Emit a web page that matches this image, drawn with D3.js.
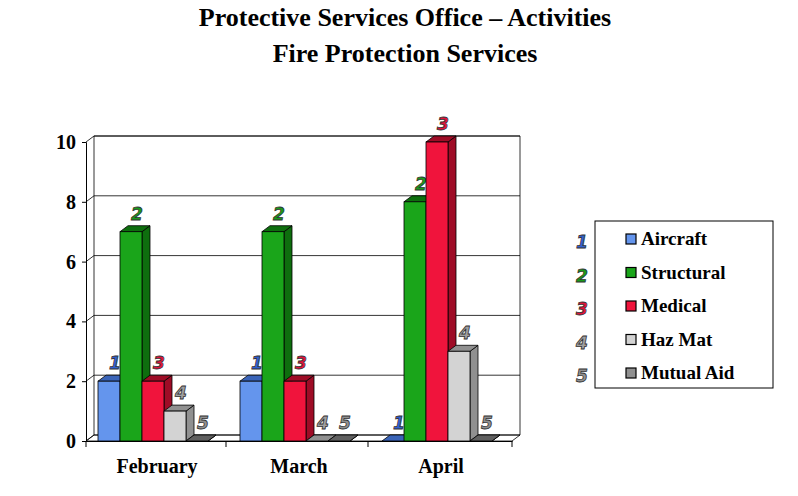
<!DOCTYPE html><html><head><meta charset="utf-8"><script src="https://cdn.jsdelivr.net/npm/d3@7"></script>
<style>body{margin:0;background:#fff}</style></head><body><svg id="c" width="798" height="496"></svg>
<script>
const categories=["February","March","April"];
const series=["Aircraft","Structural","Medical","Haz Mat","Mutual Aid"];
const seriesLabels=["1","2","3","4","5"];
const aircraft=[2,2,0], structural=[7,7,8], medical=[2,2,10], hazmat=[1,0,3], mutual=[0,0,0];
const yTicks=[0,2,4,6,8,10];
const colors=["#6495ED","#1AA51A","#F0143C","#D3D3D3","#909090"];
const sides=["#3A64B8","#0E6E0E","#9E0C26","#909090","#606060"];
const labCol=["#3060D0","#1A9A1A","#E0143C","#A0A0A0","#909090"];
const vals=[aircraft,structural,medical,hazmat,mutual];
const svg=d3.select("#c");
const F="'Liberation Serif','Times New Roman',serif";
svg.append("text").attr("x",405).attr("y",26).attr("text-anchor","middle").attr("font-family",F).attr("font-weight","bold").attr("font-size",26).text("Protective Services Office – Activities");
svg.append("text").attr("x",405).attr("y",62).attr("text-anchor","middle").attr("font-family",F).attr("font-weight","bold").attr("font-size",26).text("Fire Protection Services");
const y=d3.scaleLinear().domain([0,10]).range([441,142]);
const x0=d3.scaleBand().domain(categories).range([86,512]);
const x1=d3.scaleBand().domain(series).range([12,122]);
const dx=8,dy=-6;
const g=svg.append("g");
// walls
g.append("path").attr("d",`M86,441 L${86+dx},${441+dy} L${520},${441+dy} M${86+dx},${441+dy} L${86+dx},${y(10)+dy} L520,${y(10)+dy} L520,${441+dy}`).attr("fill","none").attr("stroke","#000").attr("stroke-width",0.8);
yTicks.forEach(t=>{
 g.append("path").attr("d",`M86,${y(t)} L${86+dx},${y(t)+dy} L520,${y(t)+dy}`).attr("fill","none").attr("stroke","#000").attr("stroke-width",0.8);
});
// floor
g.append("path").attr("d",`M86,441 L512,441 L520,${441+dy}`).attr("fill","none").attr("stroke","#000").attr("stroke-width",0.8);
const ax=d3.axisLeft(y).tickValues(yTicks).tickSize(4).tickPadding(6);
const ag=svg.append("g").attr("transform","translate(86,0)").call(ax);
ag.select(".domain").attr("stroke","#000");
ag.selectAll("text").attr("font-family",F).attr("font-weight","bold").attr("font-size",20).attr("fill","#000");
const bx=d3.axisBottom(x0).tickSize(0).tickPadding(18);
const bg=svg.append("g").attr("transform","translate(0,441)").call(bx);
bg.select(".domain").attr("stroke","#000");
bg.selectAll("text").attr("font-family",F).attr("font-weight","bold").attr("font-size",20).attr("fill","#000");
[86,226,368,512].forEach(t=>svg.append("line").attr("x1",t).attr("x2",t).attr("y1",441).attr("y2",447).attr("stroke","#000"));
const w=x1.bandwidth();
categories.forEach((c,ci)=>{
 series.forEach((s,si)=>{
  const v=vals[si][ci];
  const x=x0(c)+x1(s), yt=y(v), yb=y(0);
  const bar=svg.append("g").attr("stroke","#000").attr("stroke-width",0.8);
  bar.append("path").attr("d",`M${x+w},${yb} L${x+w+dx},${yb+dy} L${x+w+dx},${yt+dy} L${x+w},${yt}Z`).attr("fill",sides[si]);
  bar.append("path").attr("d",`M${x},${yt} L${x+dx},${yt+dy} L${x+w+dx},${yt+dy} L${x+w},${yt}Z`).attr("fill",sides[si]);
  if(v>0) bar.append("rect").attr("x",x).attr("y",yt).attr("width",w).attr("height",yb-yt).attr("fill",colors[si]);
  svg.append("text").attr("x",x+w/2+dx/2+2).attr("y",yt+dy-6).attr("text-anchor","middle").attr("font-family","'DejaVu Sans',sans-serif").attr("font-weight","bold").attr("font-style","italic").attr("font-size",17).attr("fill",labCol[si]).attr("stroke","#333").attr("stroke-width",0.8).text(seriesLabels[si]);
 });
});
// legend
svg.append("rect").attr("x",595).attr("y",221).attr("width",178).attr("height",167).attr("fill","#fff").attr("stroke","#000");
series.forEach((s,i)=>{
 const yy=240+i*33.5;
 svg.append("rect").attr("x",626).attr("y",yy-6).attr("width",10).attr("height",10).attr("fill",colors[i]).attr("stroke","#000").attr("stroke-width",1.2);
 svg.append("text").attr("x",641).attr("y",yy+5).attr("font-family",F).attr("font-weight","bold").attr("font-size",19).text(s);
 svg.append("text").attr("x",582).attr("y",yy+8).attr("text-anchor","middle").attr("font-family","'DejaVu Sans',sans-serif").attr("font-weight","bold").attr("font-style","italic").attr("font-size",17).attr("fill",labCol[i]).attr("stroke","#333").attr("stroke-width",0.8).text(seriesLabels[i]);
});
</script></body></html>
